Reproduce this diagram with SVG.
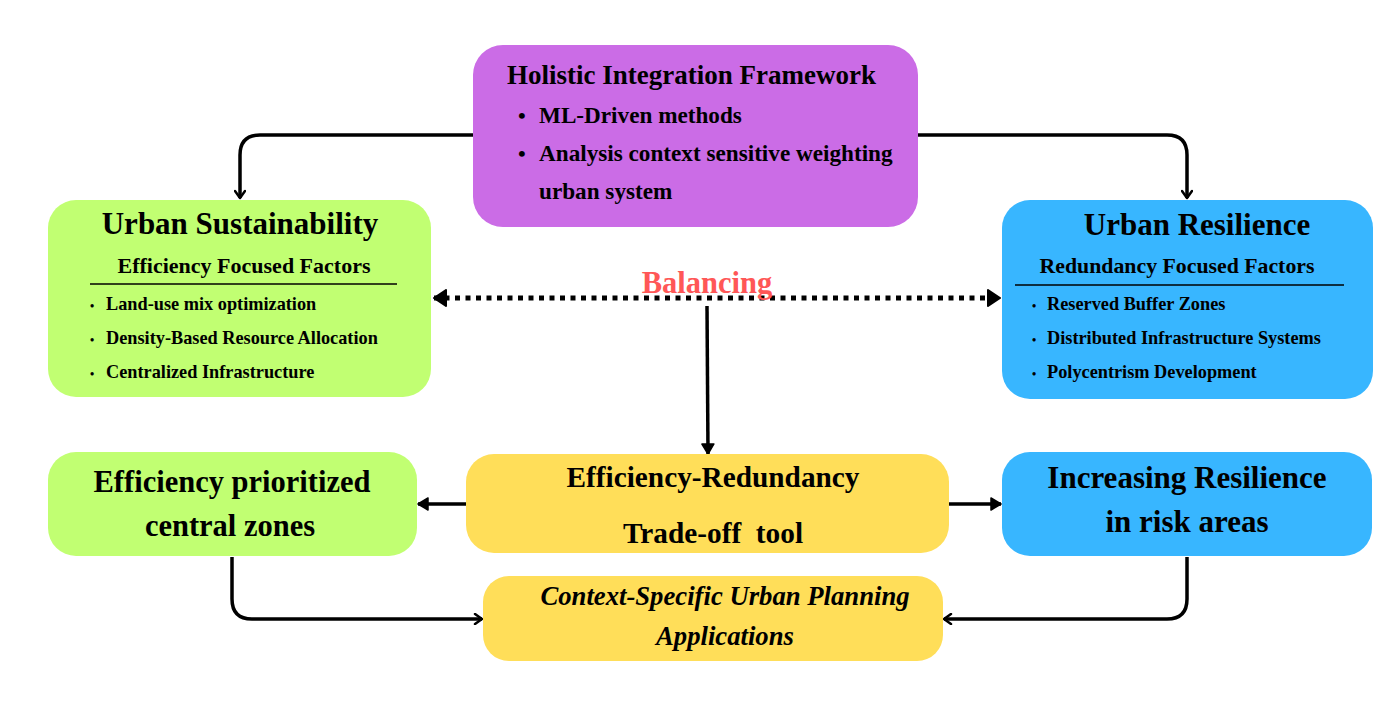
<svg xmlns="http://www.w3.org/2000/svg" width="1398" height="701" viewBox="0 0 1398 701">
<defs>
<style>
text{font-family:"Liberation Serif","Times New Roman",serif;font-weight:bold;fill:#000}
.c{text-anchor:middle}
.conn{fill:none;stroke:#000;stroke-width:3.5}
.dot{fill:none;stroke:#000;stroke-width:5;stroke-dasharray:5 5.5}
</style>
<marker id="open" viewBox="0 0 12 12" refX="10" refY="6" markerWidth="12" markerHeight="12" markerUnits="userSpaceOnUse" orient="auto">
<path d="M3,1 L10,6 L3,11" fill="none" stroke="#000" stroke-width="2.5" stroke-linecap="round" stroke-linejoin="round"/>
</marker>
<marker id="fill" viewBox="0 0 14 14" refX="12" refY="7" markerWidth="14" markerHeight="14" markerUnits="userSpaceOnUse" orient="auto">
<path d="M2,1 L12,7 L2,13 Z" fill="#000" stroke="#000" stroke-width="1.5" stroke-linejoin="round"/>
</marker>
<marker id="big" viewBox="0 0 16 18" refX="14" refY="9" markerWidth="16" markerHeight="18" markerUnits="userSpaceOnUse" orient="auto-start-reverse">
<path d="M2,1 L14,9 L2,17 Z" fill="#000" stroke="#000" stroke-width="2" stroke-linejoin="round"/>
</marker>
</defs>
<rect width="1398" height="701" fill="#fff"/>

<g id="connectors">
<path class="conn" d="M473,135 H260 Q240,135 240,155 V198" marker-end="url(#open)"/>
<path class="conn" d="M918,135 H1167 Q1187,135 1187,155 V198" marker-end="url(#open)"/>
<path class="dot" d="M434,298 H1000" marker-start="url(#big)" marker-end="url(#big)"/>
<path class="conn" d="M707,306 L708,454" marker-end="url(#fill)"/>
<path class="conn" d="M466,504 H418" marker-end="url(#fill)"/>
<path class="conn" d="M949,504 H1001" marker-end="url(#fill)"/>
<path class="conn" d="M232,557 V599 Q232,619 252,619 H482" marker-end="url(#open)"/>
<path class="conn" d="M1187,557 V599 Q1187,619 1167,619 H944" marker-end="url(#open)"/>
</g>

<g id="balancing-label">
<text x="707" y="293" class="c" style="fill:#FF5757;font-size:30.5px">Balancing</text>
</g>

<g id="holistic">
<rect x="473" y="45" width="445" height="182" rx="30" fill="#CB6CE6"/>
<text x="507" y="84" style="font-size:27px">Holistic Integration Framework</text>
<text x="518" y="123" style="font-size:22px">•</text>
<text x="539" y="123" style="font-size:23.2px">ML-Driven methods</text>
<text x="518" y="161" style="font-size:22px">•</text>
<text x="539" y="161" style="font-size:23.2px">Analysis context sensitive weighting</text>
<text x="539" y="199" style="font-size:23.2px">urban system</text>
</g>

<g id="sustainability">
<rect x="48" y="200" width="383" height="197" rx="28" fill="#C1FF72"/>
<text x="240" y="234" class="c" style="font-size:31px">Urban Sustainability</text>
<text x="244" y="273" class="c" style="font-size:22px">Efficiency Focused Factors</text>
<line x1="90" y1="284" x2="397" y2="284" stroke="#000" stroke-width="1.5"/>
<text x="90" y="310" style="font-size:12px">•</text>
<text x="106" y="310" style="font-size:18.3px">Land-use mix optimization</text>
<text x="90" y="344" style="font-size:12px">•</text>
<text x="106" y="344" style="font-size:18.3px">Density-Based Resource Allocation</text>
<text x="90" y="378" style="font-size:12px">•</text>
<text x="106" y="378" style="font-size:18.3px">Centralized Infrastructure</text>
</g>

<g id="resilience">
<rect x="1002" y="200" width="371" height="199" rx="28" fill="#38B6FF"/>
<text x="1197" y="235" class="c" style="font-size:31px">Urban Resilience</text>
<text x="1177" y="273" class="c" style="font-size:21.8px">Redundancy Focused Factors</text>
<line x1="1015" y1="285" x2="1344" y2="285" stroke="#000" stroke-width="1.5"/>
<text x="1032" y="310" style="font-size:12px">•</text>
<text x="1047" y="310" style="font-size:18.3px">Reserved Buffer Zones</text>
<text x="1032" y="344" style="font-size:12px">•</text>
<text x="1047" y="344" style="font-size:18.3px">Distributed Infrastructure Systems</text>
<text x="1032" y="378" style="font-size:12px">•</text>
<text x="1047" y="378" style="font-size:18.3px">Polycentrism Development</text>
</g>

<g id="efficiency-zones">
<rect x="48" y="452" width="369" height="104" rx="28" fill="#C1FF72"/>
<text x="232" y="492" class="c" style="font-size:30.5px">Efficiency prioritized</text>
<text x="230" y="536" class="c" style="font-size:30.5px">central zones</text>
</g>

<g id="tradeoff">
<rect x="466" y="454" width="483" height="99" rx="28" fill="#FFDE59"/>
<text x="713" y="487" class="c" style="font-size:29.3px">Efficiency-Redundancy</text>
<text x="713" y="543" class="c" style="font-size:29.3px" xml:space="preserve">Trade-off  tool</text>
</g>

<g id="risk-areas">
<rect x="1002" y="452" width="370" height="104" rx="28" fill="#38B6FF"/>
<text x="1187" y="488" class="c" style="font-size:31px">Increasing Resilience</text>
<text x="1187" y="532" class="c" style="font-size:31px">in risk areas</text>
</g>

<g id="applications">
<rect x="483" y="576" width="460" height="85" rx="26" fill="#FFDE59"/>
<text x="725" y="605" class="c" style="font-size:26.7px;font-style:italic">Context-Specific Urban Planning</text>
<text x="725" y="645" class="c" style="font-size:26.7px;font-style:italic">Applications</text>
</g>
</svg>
